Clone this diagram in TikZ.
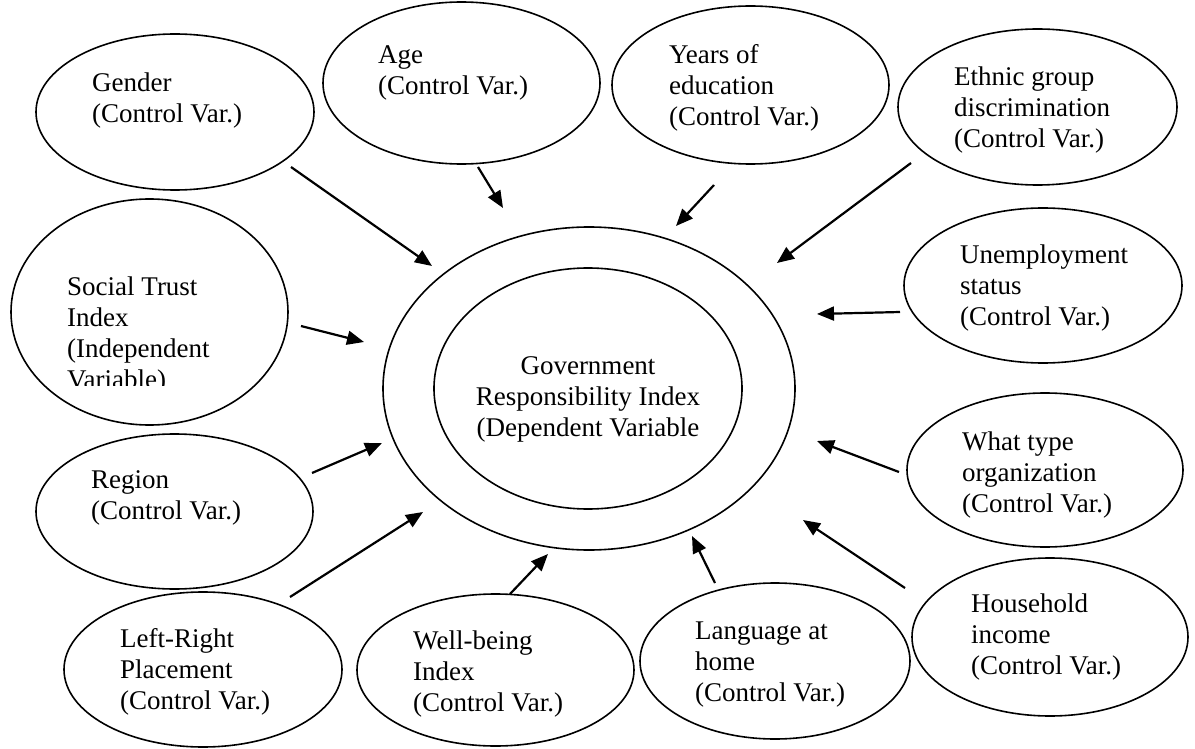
\documentclass[tikz,border=0pt]{standalone}
\usepackage{fontspec}
\setmainfont{Liberation Serif}
\usetikzlibrary{shapes.geometric,arrows.meta}
\begin{document}
\begin{tikzpicture}[x=1pt,y=-1pt,
  oval/.style={draw, ellipse, line width=1.6pt, inner sep=0pt},
  lbl/.style={anchor=north west, inner sep=0pt, align=left, font=\fontsize{27}{31}\selectfont},
  arr/.style={line width=2.2pt, -{Triangle[length=17pt,width=14pt]}}]
\useasboundingbox (0,0) rectangle (1195,749);
% ellipses
\node[oval, minimum width=278pt, minimum height=156pt] (gender) at (175,112) {};
\node[oval, minimum width=277pt, minimum height=162pt] (age) at (461.5,83) {};
\node[oval, minimum width=277pt, minimum height=158pt] (years) at (750.5,85) {};
\node[oval, minimum width=279pt, minimum height=156pt] (ethnic) at (1037.5,107) {};
\node[oval, minimum width=277pt, minimum height=226pt] (social) at (149.5,312) {};
\node[oval, minimum width=278pt, minimum height=155pt] (unemp) at (1043,285.5) {};
\node[oval, minimum width=412pt, minimum height=323pt] (outer) at (589,388.5) {};
\node[oval, minimum width=308pt, minimum height=241pt] (inner) at (588,388.5) {};
\node[oval, minimum width=277pt, minimum height=155pt] (region) at (174.5,511.5) {};
\node[oval, minimum width=276pt, minimum height=154pt] (what) at (1045,470) {};
\node[oval, minimum width=276pt, minimum height=158pt] (house) at (1050,637) {};
\node[oval, minimum width=278pt, minimum height=155pt] (leftright) at (203,669.5) {};
\node[oval, minimum width=277pt, minimum height=152pt] (well) at (495.5,670) {};
\node[oval, minimum width=270pt, minimum height=156pt] (lang) at (775,661) {};
% labels
\node[lbl] (gendert) at (92,69.3) {\strut Gender\\(Control Var.)};
\node[lbl] (aget) at (378,41.3) {\strut Age\\(Control Var.)};
\node[lbl] (yearst) at (669,41.3) {\strut Years of\\education\\(Control Var.)};
\node[lbl] (ethnict) at (954,63.3) {\strut Ethnic group\\discrimination\\(Control Var.)};
\begin{scope}
\clip (0,0) rectangle (300,385);
\node[lbl] (socialt) at (67,273.3) {\strut Social Trust\\Index\\(Independent\\Variable)};
\end{scope}
\node[lbl] (unempt) at (960,241.3) {\strut Unemployment\\status\\(Control Var.)};
\node[anchor=north, inner sep=0pt, align=center, font=\fontsize{27}{31}\selectfont] (govt) at (588,352.3) {\strut Government\\Responsibility Index\\(Dependent Variable};
\node[lbl] (regiont) at (91,466.3) {\strut Region\\(Control Var.)};
\node[lbl] (whatt) at (962,428.3) {\strut What type\\organization\\(Control Var.)};
\node[lbl] (houset) at (971,590.3) {\strut Household\\income\\(Control Var.)};
\node[lbl] (leftrightt) at (120,625.3) {\strut Left-Right\\Placement\\(Control Var.)};
\node[lbl] (wellt) at (413,627.3) {\strut Well-being\\Index\\(Control Var.)};
\node[lbl] (langt) at (695,617.3) {\strut Language at\\home\\(Control Var.)};
% arrows
\coordinate (a1s) at (291,167); \coordinate (a1e) at (432,266);
\coordinate (a2s) at (478,167); \coordinate (a2e) at (503,208);
\coordinate (a3s) at (714,185); \coordinate (a3e) at (676,226);
\coordinate (a4s) at (911,163); \coordinate (a4e) at (777,263);
\coordinate (a5s) at (900,312); \coordinate (a5e) at (817,314);
\coordinate (a6s) at (899,472); \coordinate (a6e) at (817,441);
\coordinate (a7s) at (905,588); \coordinate (a7e) at (803,520);
\coordinate (a8s) at (715,583); \coordinate (a8e) at (692,536);
\coordinate (a9s) at (510,594); \coordinate (a9e) at (548,554);
\coordinate (a10s) at (290,597); \coordinate (a10e) at (423,512);
\coordinate (a11s) at (312,473); \coordinate (a11e) at (382,443);
\coordinate (a12s) at (301,326); \coordinate (a12e) at (364,342);
\foreach \i in {1,...,12} {\draw[arr] (a\i s) -- (a\i e);}
\end{tikzpicture}
\end{document}
